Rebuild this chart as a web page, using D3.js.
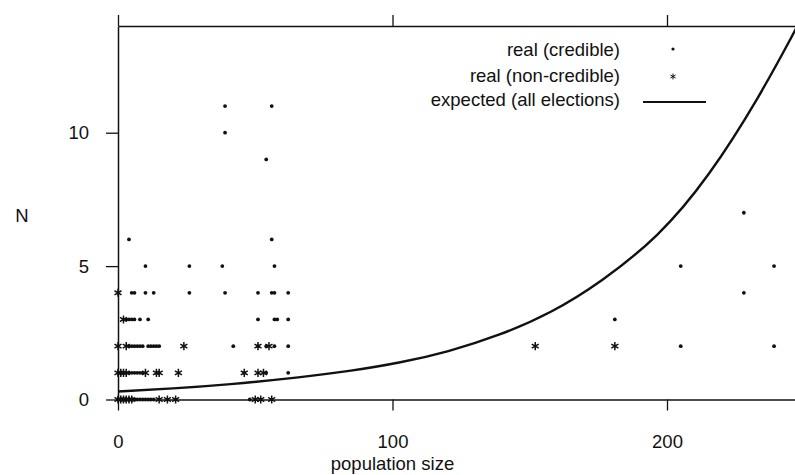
<!DOCTYPE html>
<html>
<head>
<meta charset="utf-8">
<script src="https://cdn.jsdelivr.net/npm/d3@7"></script>
<style>
  html, body { margin: 0; padding: 0; background: #fff; }
  svg text { font-family: "Liberation Sans", Arial, Helvetica, sans-serif; fill: #111; }
</style>
</head>
<body>
<svg id="chart" width="795" height="475"></svg>
<script>
// Credible elections: [population size, N]
const credible = [
  [0,0],[1,0],[2,0],[3,0],[4,0],[5,0],[6,0],[7,0],[8,0],[9,0],[10,0],[11,0],[12,0],[13,0],[48,0],
  [4,1],[5,1],[6,1],[7,1],[8,1],[9,1],[46,1],[54,1],[62,1],
  [4,2],[5,2],[6,2],[7,2],[8,2],[9,2],[11,2],[12,2],[13,2],[14,2],[15,2],[42,2],[51,2],[54,2],[57,2],[62,2],
  [3,3],[4,3],[5,3],[6,3],[8,3],[11,3],[51,3],[57,3],[58,3],[62,3],
  [5,4],[6,4],[10,4],[13,4],[26,4],[39,4],[51,4],[56,4],[57,4],[62,4],
  [10,5],[26,5],[38,5],[57,5],
  [4,6],[56,6],
  [54,9],[39,10],[39,11],[56,11],
  [181,3],[205,5],[205,2],[228,7],[228,4],[239,5],[239,2]
];

// Non-credible elections: [population size, N]
const nonCredible = [
  [0,0],[1,0],[2,0],[3,0],[4,0],[5,0],[15,0],[18,0],[21,0],[50,0],[52,0],[56,0],
  [0,1],[1,1],[2,1],[3,1],[10,1],[14,1],[15,1],[22,1],[46,1],[51,1],[53,1],
  [0,2],[3,2],[24,2],[51,2],[55,2],
  [2,3],
  [0,4],
  [152,2],[181,2]
];

// Expected N over all elections
const expectedPop = [0, 20, 40, 66, 85, 103, 120, 139, 158, 176, 197, 215, 234, 247];
const expectedN   = [0.30, 0.41, 0.56, 0.82, 1.07, 1.38, 1.78, 2.40, 3.25, 4.40, 6.10, 8.30, 11.4, 13.9];

const xTicks = [0, 100, 200];
const yTicks = [0, 5, 10];

const legendLabels = ["real (credible)", "real (non-credible)", "expected (all elections)"];

const svg = d3.select("#chart");
const ink = "#111";
const fontSize = 18.5;

const x = d3.scaleLinear().domain([0, 250]).range([118, 804.25]);
const y = d3.scaleLinear().domain([0, 14]).range([399.5, 26]);

const plotLeft = x(0), plotRight = x(250), plotTop = y(14), plotBottom = y(0);

svg.append("defs").append("clipPath").attr("id", "plot-clip")
  .append("rect")
  .attr("x", plotLeft - 6).attr("y", plotTop)
  .attr("width", plotRight - plotLeft + 6).attr("height", plotBottom - plotTop + 6);

// Bottom axis
const gx = svg.append("g").attr("transform", `translate(0,${plotBottom})`)
  .call(d3.axisBottom(x).tickValues(xTicks).tickSize(11).tickSizeOuter(0).tickPadding(24)
    .tickFormat(d3.format("d")));
// Top axis (ticks only)
const gt = svg.append("g").attr("transform", `translate(0,${plotTop})`)
  .call(d3.axisTop(x).tickValues(xTicks).tickSize(11).tickSizeOuter(0).tickFormat(""));
// Left axis
const gy = svg.append("g").attr("transform", `translate(${plotLeft},0)`)
  .call(d3.axisLeft(y).tickValues(yTicks).tickSize(12).tickSizeOuter(0).tickPadding(17)
    .tickFormat(d3.format("d")));

[gx, gt, gy].forEach(g => {
  g.selectAll("path.domain").attr("stroke", ink).attr("stroke-width", 1.5);
  g.selectAll(".tick line").attr("stroke", ink).attr("stroke-width", 1.3);
  g.selectAll(".tick text").attr("font-size", fontSize).style("font-family", "Liberation Sans, Arial, sans-serif").attr("fill", ink);
});

// Axis titles
svg.append("text").attr("x", x(100)).attr("y", 470)
  .attr("text-anchor", "middle").attr("font-size", fontSize).text("population size");
svg.append("text").attr("x", 22).attr("y", 222)
  .attr("text-anchor", "middle").attr("font-size", fontSize).text("N");

const plot = svg.append("g").attr("clip-path", "url(#plot-clip)");

// Expected curve, smoothed through the read points
const curve = d3.line()
  .x(d => x(d[0])).y(d => y(d[1]))
  .curve(d3.curveBasis);
plot.append("path")
  .datum(expectedPop.map((p, i) => [p, expectedN[i]]))
  .attr("fill", "none").attr("stroke", ink).attr("stroke-width", 2.4)
  .attr("d", curve);

// Credible points: small dots
plot.selectAll("circle.cred").data(credible).join("circle")
  .attr("class", "cred")
  .attr("cx", d => x(d[0])).attr("cy", d => y(d[1]))
  .attr("r", 1.9).attr("fill", ink);

// Non-credible points: asterisks
const star = d3.symbol().type(d3.symbolAsterisk).size(46);
plot.selectAll("path.noncred").data(nonCredible).join("path")
  .attr("class", "noncred")
  .attr("transform", d => `translate(${x(d[0])},${y(d[1])})`)
  .attr("d", star).attr("fill", "none").attr("stroke", ink).attr("stroke-width", 1.5);

// Legend
const legendRight = 620;
const legendBaselines = [56, 81.5, 106];
const legend = svg.append("g");
legendLabels.forEach((label, i) => {
  legend.append("text").attr("x", legendRight).attr("y", legendBaselines[i])
    .attr("text-anchor", "end").attr("font-size", fontSize).text(label);
});
legend.append("circle").attr("cx", 673).attr("cy", legendBaselines[0] - 7).attr("r", 1.6).attr("fill", ink);
legend.append("path").attr("transform", `translate(673,${legendBaselines[1] - 5})`)
  .attr("d", d3.symbol().type(d3.symbolAsterisk).size(24)).attr("fill", "none")
  .attr("stroke", ink).attr("stroke-width", 1);
legend.append("line").attr("x1", 643).attr("x2", 706)
  .attr("y1", legendBaselines[2] - 4).attr("y2", legendBaselines[2] - 4)
  .attr("stroke", ink).attr("stroke-width", 2.2);
</script>
</body>
</html>
